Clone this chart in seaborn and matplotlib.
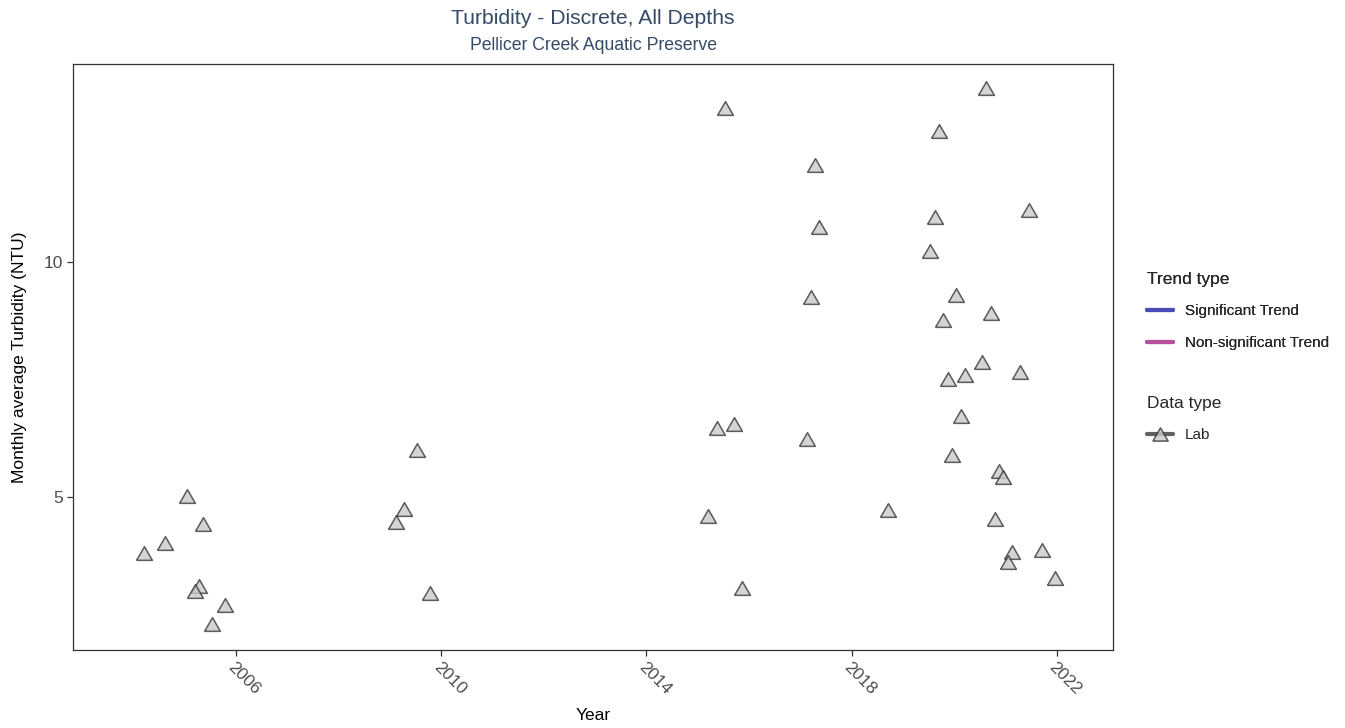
"""
Turbidity - Discrete, All Depths : moyennes mensuelles (Pellicer Creek Aquatic Preserve).
"""

import numpy as np
import pandas as pd
import matplotlib
matplotlib.use('Agg')
import matplotlib.pyplot as plt
from matplotlib.lines import Line2D
import seaborn as sns

# ── Données (mois d'échantillonnage, turbidité moyenne NTU) ─────────
MOIS = [
    "2004-03", "2004-08", "2005-01", "2005-05", "2005-04", "2005-03",
    "2005-10", "2005-07", "2009-07", "2009-04", "2009-02", "2009-10",
    "2015-07", "2020-08", "2019-09", "2017-04", "2021-06", "2019-08",
    "2017-05", "2019-07", "2017-03", "2020-01", "2020-09", "2019-10",
    "2020-07", "2021-04", "2020-03", "2019-11", "2020-02", "2015-09",
    "2015-05", "2017-02", "2019-12", "2020-11", "2020-12", "2018-09",
    "2015-03", "2020-10", "2021-02", "2021-09", "2021-01", "2021-12",
    "2015-11",
]
TURBIDITE = [
    3.81, 4.02, 5.02, 4.42, 3.10, 3.01,
    2.70, 2.30, 5.99, 4.75, 4.47, 2.96,
    13.27, 13.71, 12.78, 12.06, 11.10, 10.95,
    10.75, 10.23, 9.25, 9.29, 8.92, 8.76,
    7.88, 7.66, 7.59, 7.51, 6.73, 6.56,
    6.46, 6.23, 5.90, 5.55, 5.43, 4.72,
    4.59, 4.54, 3.82, 3.87, 3.61, 3.27,
    3.07,
]
TYPE_DONNEES = ["Lab"] * len(MOIS)

TICK_ANNEES = [2006, 2010, 2014, 2018, 2022]
TICK_Y      = [5, 10]

TITRE      = "Turbidity - Discrete, All Depths"
SOUS_TITRE = "Pellicer Creek Aquatic Preserve"

COUL_TITRE  = "#344a66"
COUL_SIGNIF = "#4b4bb9"
COUL_NONSIG = "#b44f9c"

# triangle équilatéral centré sur sa boîte englobante
TRIANGLE = [(-1.0, -0.866), (1.0, -0.866), (0.0, 0.866), (-1.0, -0.866)]

df = pd.DataFrame({
    "date": pd.to_datetime([m + "-15" for m in MOIS]),
    "turbidite": TURBIDITE,
    "type": TYPE_DONNEES,
})

# ── Figure ───────────────────────────────────────────────────────────
sns.set_theme(style="white")
plt.rcParams['font.family'] = ['Liberation Sans', 'DejaVu Sans']

fig = plt.figure(figsize=(13.45, 7.28), dpi=100)
ax = fig.add_axes([73 / 1345, 1 - 650 / 728, (1113 - 73) / 1345, (650 - 64) / 728])

sns.scatterplot(data=df, x="date", y="turbidite", marker=TRIANGLE, s=130,
                color="#c8c8c8", edgecolor="#333333", linewidth=1.1,
                alpha=0.78, legend=False, ax=ax)

ax.set_xlim(pd.Timestamp("2002-10-30"), pd.Timestamp("2023-02-03"))
ax.set_ylim(1.745, 14.21)

ax.set_xticks([pd.Timestamp(f"{a}-01-01") for a in TICK_ANNEES])
ax.set_xticklabels([str(a) for a in TICK_ANNEES], rotation=-45,
                   ha="left", va="top", rotation_mode="anchor")
ax.set_yticks(TICK_Y)
ax.set_yticklabels([str(v) for v in TICK_Y])

ax.tick_params(axis="both", which="major", length=4, width=0.9,
               color="#333333", labelcolor="#4d4d4d", labelsize=12.5,
               bottom=True, left=True, pad=3)
for s in ax.spines.values():
    s.set_color("#333333")
    s.set_linewidth(0.9)

ax.set_xlabel("Year", fontsize=12.5, color="black", labelpad=7.5)
ax.set_ylabel("Monthly average Turbidity (NTU)", fontsize=12.5, color="black", labelpad=12)
ax.grid(False)

# ── Titres ───────────────────────────────────────────────────────────
fig.text(593 / 1345, 1 - 19 / 728, TITRE, ha="center", va="center",
         fontsize=15.2, color=COUL_TITRE)
fig.text(593 / 1345, 1 - 46 / 728, SOUS_TITRE, ha="center", va="center",
         fontsize=12.7, color=COUL_TITRE)

# ── Légendes ─────────────────────────────────────────────────────────
poignees_tendance = [
    Line2D([0], [0], color=COUL_SIGNIF, lw=3),
    Line2D([0], [0], color=COUL_NONSIG, lw=3),
]
leg1 = fig.legend(poignees_tendance, ["Significant Trend", "Non-significant Trend"],
                  title="Trend type", loc="upper left",
                  bbox_to_anchor=(1133 / 1345, 1 - 258 / 728),
                  frameon=False, fontsize=11, title_fontsize=12.5,
                  handlelength=1.7, handletextpad=0.8, labelspacing=1.15,
                  alignment="left")

poignee_lab = Line2D([0], [0], color="#3a3a3a", lw=3, marker=TRIANGLE,
                     markersize=11, markerfacecolor="#c8c8c8",
                     markeredgecolor="#333333", markeredgewidth=1.1, alpha=0.8)
leg2 = fig.legend([poignee_lab], ["Lab"], title="Data type", loc="upper left",
                  bbox_to_anchor=(1133 / 1345, 1 - 382 / 728),
                  frameon=False, fontsize=11, title_fontsize=12.5,
                  handlelength=1.7, handletextpad=0.8, labelspacing=1.15,
                  alignment="left")
fig.add_artist(leg1)

fig.savefig("out.png", dpi=100)
plt.close(fig)
